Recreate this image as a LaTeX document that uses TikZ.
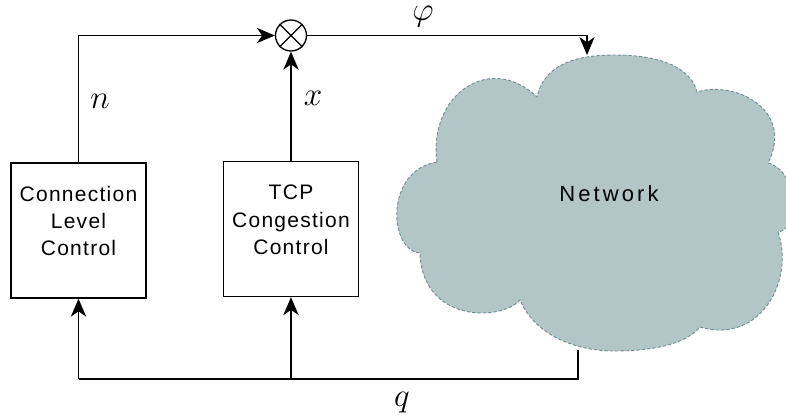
\documentclass[tikz,border=0pt]{standalone}
\usepackage{fontspec}
\setsansfont{Liberation Sans}
\usetikzlibrary{arrows.meta}
\definecolor{cloudfill}{HTML}{B3C6C7}
\definecolor{cloudedge}{HTML}{6E8E92}
\begin{document}
\begin{tikzpicture}[x=0.75pt,y=-0.75pt,
  wire/.style={line width=1pt, draw=black},
  arr/.style={wire, -{Stealth[length=13.5pt,width=11.5pt,inset=4pt]}},
  ctrlbox/.style={draw=black, line width=1pt, minimum width=101.25pt,
    minimum height=101.25pt, inner sep=0pt},
  boxtext/.style={font=\sffamily\fontsize{15.75}{20.6}\selectfont\addfontfeature{LetterSpace=6},
    align=center, inner sep=0pt},
  mathlbl/.style={font=\fontsize{24.88}{30}\selectfont, inner sep=0pt, anchor=base}]
\useasboundingbox (0,0) rectangle (786,419);

% network cloud
\path[fill=cloudfill, draw=cloudedge, line width=0.7pt, dash pattern=on 2.5pt off 1.5pt]
  (437,162)
  .. controls (428,95) and (490,52) .. (537,97)
  .. controls (545,62) and (580,55) .. (615,55)
  .. controls (655,55) and (690,65) .. (697,92)
  .. controls (735,80) and (795,110) .. (768,163)
  .. controls (798,170) and (800,230) .. (778,232)
  .. controls (795,280) and (760,345) .. (700,327)
  .. controls (685,345) and (650,351) .. (615,351)
  .. controls (575,351) and (535,335) .. (520,300)
  .. controls (500,322) and (422,322) .. (420,253)
  .. controls (388,250) and (385,170) .. (437,162) -- cycle;
\node[font=\sffamily\fontsize{16.5}{20}\selectfont\addfontfeature{LetterSpace=14}] (net) at (609,194) {Network};
\coordinate (cloudtop) at (587,55);
\coordinate (cloudbot) at (578,350);

% control blocks
\node[ctrlbox] (clc) at (78.5,230.5) {};
\node[boxtext] (clctext) at (78.5,221) {Connection\\Level\\Control};
\node[ctrlbox] (tcp) at (291,229) {};
\node[boxtext] (tcptext) at (291,220) {TCP\\Congestion\\Control};

% multiplier
\node[draw, circle, line width=1pt, minimum size=23.25pt, inner sep=0pt] (mix) at (291,35.5) {};
\draw[wire] (mix.45) -- (mix.225) (mix.135) -- (mix.315);

% forward paths
\draw[arr] (clc.north) |- (mix.west);
\draw[arr] (tcp.north) -- (mix.south);
\draw[arr] (mix.east) -| (cloudtop);

% feedback bus
\coordinate (bus) at (578,379);
\draw[wire] (cloudbot) -- (bus) -- (bus -| clc.south);
\draw[arr] (bus -| clc.south) -- (clc.south);
\draw[arr] (bus -| tcp.south) -- (tcp.south);

% signal labels
\node[mathlbl] (lphi) at (423,20) {$\varphi$};
\node[mathlbl] (ln) at (100,108) {$n$};
\node[mathlbl] (lx) at (313,105) {$x$};
\node[mathlbl] (lq) at (402,406) {$q$};
\end{tikzpicture}
\end{document}
